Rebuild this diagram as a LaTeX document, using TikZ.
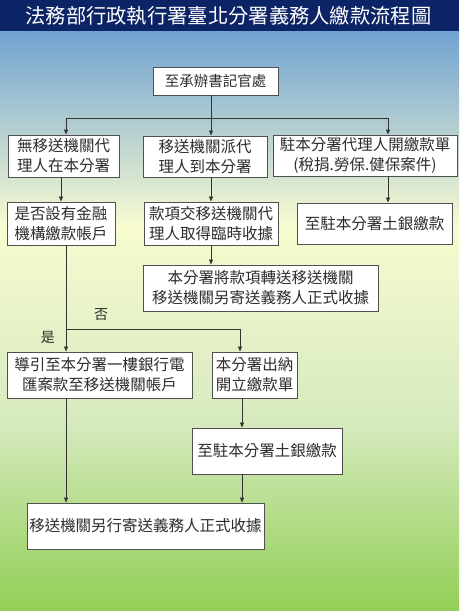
\documentclass[tikz,border=0pt]{standalone}
\usepackage{fontspec}
\setmainfont{Noto Sans CJK TC}
\usetikzlibrary{arrows.meta}
\definecolor{navy}{RGB}{12,36,102}
\definecolor{bgblue}{RGB}{112,162,210}
\definecolor{bgpale}{RGB}{248,251,208}
\definecolor{bgmid}{RGB}{214,234,190}
\definecolor{bggreen}{RGB}{146,207,86}
\definecolor{txt}{RGB}{45,45,45}
\definecolor{edge}{RGB}{80,80,80}
\tikzset{
  box/.style={draw=edge, line width=0.9pt, fill=white, text=txt, align=center,
    inner sep=0pt, font=\fontsize{15.5}{20}\selectfont},
  arr/.style={draw=black!80, line width=0.8pt, -{Triangle[length=5pt,width=4pt]}},
  ln/.style={draw=black!80, line width=0.8pt},
  lbl/.style={text=txt, font=\fontsize{14}{16}\selectfont, inner sep=0pt}
}
\begin{document}
\begin{tikzpicture}[x=1pt,y=-1pt]
\useasboundingbox (0,0) rectangle (459,611);
% background
\shade[top color=bgblue, bottom color=bgpale] (0,30) rectangle (459,226);
\shade[top color=bgpale, bottom color=bgmid] (0,225.5) rectangle (459,421);
\shade[top color=bgmid, bottom color=bggreen] (0,420.5) rectangle (459,611);
\fill[navy] (0,0) rectangle (459,30.5);
\node[text=white, font=\fontsize{20.3}{22}\selectfont, inner sep=0pt] (title) at (228.5,16) {法務部行政執行署臺北分署義務人繳款流程圖};
% boxes
\node[box, font=\fontsize{14.5}{18}\selectfont, minimum width=125pt, minimum height=28pt] (top) at (215.5,81) {至承辦書記官處};
\node[box, minimum width=111pt, minimum height=42pt] (L1) at (63.5,156) {無移送機關代\\理人在本分署};
\node[box, minimum width=124pt, minimum height=41pt] (M1) at (205,156.5) {移送機關派代\\理人到本分署};
\node[box, minimum width=184pt, minimum height=41pt] (R1) at (365,155.5) {駐本分署代理人開繳款單\\(稅捐.勞保.健保案件)};
\node[box, minimum width=108pt, minimum height=43pt] (L2) at (61,223.5) {是否設有金融\\機構繳款帳戶};
\node[box, minimum width=134pt, minimum height=43pt] (M2) at (211,223.5) {款項交移送機關代\\理人取得臨時收據};
\node[box, minimum width=155pt, minimum height=41pt] (R2) at (374.5,223.5) {至駐本分署土銀繳款};
\node[box, minimum width=235pt, minimum height=46pt] (M3) at (260.5,288) {本分署將款項轉送移送機關\\移送機關另寄送義務人正式收據};
\node[box, minimum width=185pt, minimum height=46pt] (L4) at (99.5,375) {導引至本分署一樓銀行電\\匯案款至移送機關帳戶};
\node[box, minimum width=85pt, minimum height=46pt] (C4) at (254.5,375) {本分署出納\\開立繳款單};
\node[box, minimum width=150pt, minimum height=46pt] (C5) at (267,451) {至駐本分署土銀繳款};
\node[box, minimum width=237pt, minimum height=46pt] (B) at (145.5,526) {移送機關另行寄送義務人正式收據};
% labels
\node[lbl] (no) at (101,315) {否};
\node[lbl] (yes) at (48,337) {是};
% helper coordinates
\coordinate (xL) at (66,0);
\coordinate (xLa) at (61,0);
\coordinate (xM) at (211,0);
\coordinate (xR) at (388,0);
\coordinate (xC) at (242,0);
\coordinate (xC2) at (240,0);
\coordinate (hline) at (0,118);
\coordinate (split) at (0,329);
% connectors
\draw[ln] (top.south -| xM) -- (xM |- hline);
\draw[ln] (xL |- hline) -- (xR |- hline);
\draw[arr] (xL |- hline) -- (xL |- L1.north);
\draw[arr] (xM |- hline) -- (xM |- M1.north);
\draw[arr] (xR |- hline) -- (xR |- R1.north);
\draw[arr] (L1.south -| xLa) -- (L2.north -| xLa);
\draw[arr] (M1.south -| xM) -- (M2.north -| xM);
\draw[arr] (R1.south -| xR) -- (R2.north -| xR);
\draw[arr] (M2.south -| xM) -- (M3.north -| xM);
\draw[ln] (L2.south -| xL) -- (xL |- split) -- (xC2 |- split);
\draw[arr] (xL |- split) -- (L4.north -| xL);
\draw[arr] (xC2 |- split) -- (C4.north -| xC2);
\draw[arr] (L4.south -| xL) -- (B.north -| xL);
\draw[arr] (C4.south -| xC) -- (C5.north -| xC);
\draw[arr] (C5.south -| xC) -- (B.north -| xC);
\end{tikzpicture}
\end{document}
